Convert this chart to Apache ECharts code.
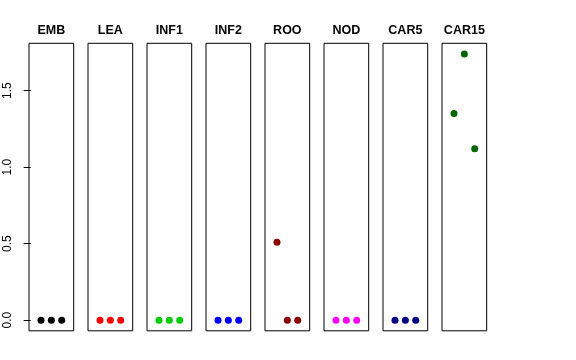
<!DOCTYPE html>
<html><head><meta charset="utf-8">
<script src="https://cdn.jsdelivr.net/npm/echarts@6/dist/echarts.min.js"></script>
<style>html,body{margin:0;padding:0;background:#fff}#c{width:576px;height:360px}</style>
</head><body><div id="c"></div>
<script>
const panels = ["EMB","LEA","INF1","INF2","ROO","NOD","CAR5","CAR15"];
const colors = ["#000000","#FF0000","#00CD00","#0000FF","#8B0000","#FF00FF","#000080","#006400"];
const xPos = [1,2,3];
const EMB = [0,0,0];
const LEA = [0,0,0];
const INF1 = [0,0,0];
const INF2 = [0,0,0];
const ROO = [0.51,0,0];
const NOD = [0,0,0];
const CAR5 = [0,0,0];
const CAR15 = [1.35,1.74,1.12];
const values = [EMB,LEA,INF1,INF2,ROO,NOD,CAR5,CAR15];
const yTicks = [0,0.5,1.0,1.5];

const chart = echarts.init(document.getElementById('c'), null, {renderer:'canvas'});
const grids=[], xAxes=[], yAxes=[], series=[], texts=[];
const left0 = 29, step = 59, w = 44.7;
panels.forEach((p,i)=>{
  const L = left0 + i*step;
  grids.push({left:L, top:43.3, width:w, height:287.5, show:true, borderColor:'#000', borderWidth:1, backgroundColor:'transparent'});
  xAxes.push({type:'value', gridIndex:i, min:-0.16, max:4.16, show:false});
  yAxes.push({type:'value', gridIndex:i, min:-0.0696, max:1.8096,
    axisLine:{show:false}, splitLine:{show:false},
    axisTick:{show:i===0, length:7, lineStyle:{color:'#000'}, customValues:yTicks},
    axisLabel:{show:i===0, rotate:90, margin:15, color:'#000', fontSize:12, fontFamily:'Liberation Sans, Arial, sans-serif',
      customValues:yTicks, formatter:v=>Number(v).toFixed(1)}
  });
  series.push({type:'scatter', xAxisIndex:i, yAxisIndex:i, symbolSize:7,
    itemStyle:{color:colors[i], opacity:1}, data:xPos.map((x,j)=>[x, values[i][j]])});
  texts.push({type:'text', x:L + w/2, y:31, style:{text:p, x:0, y:0, align:'center', verticalAlign:'middle',
    fill:'#000', font:'bold 12.5px "Liberation Sans", Arial, sans-serif'}});
});
chart.setOption({animation:false, grid:grids, xAxis:xAxes, yAxis:yAxes, series:series, graphic:texts});
</script></body></html>
